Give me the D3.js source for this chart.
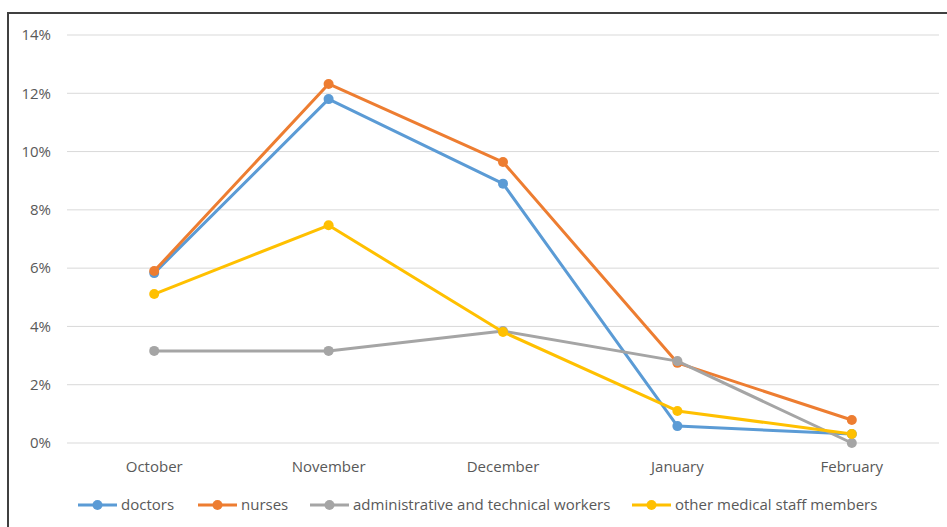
<!DOCTYPE html>
<html>
<head>
<meta charset="utf-8">
<script src="https://cdn.jsdelivr.net/npm/d3@7"></script>
<style>
  body { margin: 0; background: #fff; }
  text { font-family: "Open Sans", sans-serif; fill: #595959; }
</style>
</head>
<body>
<svg id="chart" width="947" height="527"></svg>
<script>
// data (percent)
var months = ["October", "November", "December", "January", "February"];
var doctors = [5.83, 11.8, 8.9, 0.58, 0.31];
var nurses = [5.9, 12.32, 9.64, 2.75, 0.79];
var adminWorkers = [3.16, 3.16, 3.84, 2.81, 0.0];
var otherStaff = [5.11, 7.47, 3.81, 1.1, 0.31];
var yTicks = [0, 2, 4, 6, 8, 10, 12, 14];

var series = [
  {name: "doctors", values: doctors, color: "#5B9BD5"},
  {name: "nurses", values: nurses, color: "#ED7D31"},
  {name: "administrative and technical workers", values: adminWorkers, color: "#A5A5A5"},
  {name: "other medical staff members", values: otherStaff, color: "#FFC000"}
];

var svg = d3.select("#chart");

// chart frame (only top and left edges show)
svg.append("path")
    .attr("d", "M8,527V13H947")
    .attr("fill", "none")
    .attr("stroke", "#404040")
    .attr("stroke-width", 2);

var x = d3.scaleBand().domain(months).range([67, 939]);
var y = d3.scaleLinear().domain([0, 14]).range([443, 35]);

// gridlines
svg.append("g").selectAll("line")
    .data(yTicks)
  .enter().append("line")
    .attr("x1", 67).attr("x2", 939)
    .attr("y1", function(d) { return y(d); })
    .attr("y2", function(d) { return y(d); })
    .attr("stroke", "#D9D9D9")
    .attr("stroke-width", 1);

// y axis labels
var yAxis = svg.append("g")
    .attr("transform", "translate(60,0)")
    .call(d3.axisLeft(y).tickValues(yTicks).tickSize(0).tickPadding(9)
      .tickFormat(function(d) { return d + "%"; }));
yAxis.select(".domain").remove();
yAxis.selectAll("text").style("font-size", "15px").style("font-family", "Open Sans").attr("fill", "#595959");

// x axis labels
var xAxis = svg.append("g")
    .attr("transform", "translate(0,443)")
    .call(d3.axisBottom(x).tickSize(0).tickPadding(18));
xAxis.select(".domain").remove();
xAxis.selectAll("text").style("font-size", "15px").style("font-family", "Open Sans").attr("fill", "#595959");

var line = d3.line()
    .x(function(d, i) { return x(months[i]) + x.bandwidth() / 2; })
    .y(function(d) { return y(d); });

series.forEach(function(s) {
  var g = svg.append("g");
  g.append("path")
      .attr("d", line(s.values))
      .attr("fill", "none")
      .attr("stroke", s.color)
      .attr("stroke-width", 3)
      .attr("stroke-linejoin", "round");
  g.selectAll("circle")
      .data(s.values)
    .enter().append("circle")
      .attr("cx", function(d, i) { return x(months[i]) + x.bandwidth() / 2; })
      .attr("cy", function(d) { return y(d); })
      .attr("r", 5)
      .attr("fill", s.color);
});

// legend
var legendX = [78, 198, 310, 632];
var legend = svg.append("g");
series.forEach(function(s, i) {
  var lg = legend.append("g").attr("transform", "translate(" + legendX[i] + ",505)");
  lg.append("line").attr("x1", 0).attr("x2", 39).attr("stroke", s.color).attr("stroke-width", 3);
  lg.append("circle").attr("cx", 19.5).attr("r", 5).attr("fill", s.color);
  lg.append("text")
      .attr("x", 43)
      .attr("dy", "0.35em")
      .style("font-size", "15px")
      .text(s.name);
});
</script>
</body>
</html>
